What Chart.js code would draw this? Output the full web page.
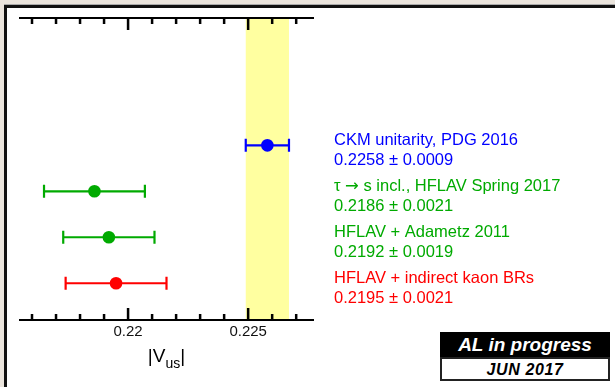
<!DOCTYPE html>
<html>
<head>
<meta charset="utf-8">
<script src="https://cdn.jsdelivr.net/npm/chart.js@4/dist/chart.umd.min.js"></script>
<style>
  html, body { margin: 0; padding: 0; width: 615px; height: 387px; overflow: hidden; background: #ebe5dd; }
  .frame { position: absolute; left: 4px; top: 5px; right: 0; bottom: 0; background: #fff; border-left: 3px solid #111; border-top: 3px solid #111; box-shadow: 0 -1px 0 #aaa; }
  #vusChart { position: absolute; left: 0; top: 0; }
  .tag { position: absolute; left: 440px; width: 170px; box-sizing: border-box; text-align: center; font-family: "Liberation Sans", Arial, Helvetica, sans-serif; font-weight: bold; font-style: italic; }
  .tag.top { top: 332px; height: 26px; line-height: 26px; background: #000; color: #fff; font-size: 19px; }
  .tag.bottom { top: 357px; height: 24px; line-height: 21px; background: #fff; color: #000; font-size: 16px; border: 2px solid #222; letter-spacing: 0.6px; }
</style>
</head>
<body>
<div class="frame"></div>
<canvas id="vusChart" width="615" height="387"></canvas>
<div class="tag top">AL in progress</div>
<div class="tag bottom">JUN 2017</div>
<script>
// ==========================================
// data
// ==========================================
const measLabels = ['CKM unitarity, PDG 2016', 'τ → s incl., HFLAV Spring 2017', 'HFLAV + Adametz 2011', 'HFLAV + indirect kaon BRs'];
const measValues = [0.2258, 0.2186, 0.2192, 0.2195];
const measErrors = [0.0009, 0.0021, 0.0019, 0.0021];
const measRows = [4, 3, 2, 1];
const measColors = ['#0000ff', '#00aa00', '#00aa00', '#ff0000'];
const bandRange = [0.2249, 0.2267];   // CKM unitarity band
const labelTicks = [0.22, 0.225];
const majorTicks = [0.22, 0.225];
const minorTicks = [0.216, 0.217, 0.218, 0.219, 0.221, 0.222, 0.223, 0.224, 0.226, 0.227];

const FONT = '"Liberation Sans", Arial, Helvetica, sans-serif';
const LABEL_FONT = '16.5px ' + FONT;
const ARROW_FONT = '16.5px "DejaVu Sans", sans-serif';

// draw a label, arrow glyph in a font that has a full-size one
function drawLabel(ctx, text, x, y) {
    const parts = text.split('→');
    parts.forEach((p, k) => {
        ctx.font = LABEL_FONT; ctx.fillText(p, x, y); x += ctx.measureText(p).width;
        if (k < parts.length - 1) { ctx.font = ARROW_FONT; ctx.fillText('→', x, y); x += ctx.measureText('→').width; }
    });
}

// ==========================================
// plugins: band, error bars, inner ticks, labels
// ==========================================
const vusPlugin = {
    id: 'vusPlugin',
    beforeDraw(chart) {
        const { ctx, chartArea: a, scales: { x } } = chart;
        const x0 = x.getPixelForValue(bandRange[0]); const x1 = x.getPixelForValue(bandRange[1]);
        ctx.save(); ctx.fillStyle = '#ffffa0'; ctx.fillRect(x0, a.top, x1 - x0, a.bottom - a.top); ctx.restore();
    },
    beforeDatasetsDraw(chart) {
        const { ctx, scales: { x, y } } = chart;
        ctx.save(); ctx.lineWidth = 2.2;
        measValues.forEach((v, i) => {
            const py = y.getPixelForValue(measRows[i]);
            const lo = x.getPixelForValue(v - measErrors[i]); const hi = x.getPixelForValue(v + measErrors[i]);
            ctx.strokeStyle = measColors[i];
            ctx.beginPath();
            ctx.moveTo(lo, py); ctx.lineTo(hi, py);
            ctx.moveTo(lo, py - 6.5); ctx.lineTo(lo, py + 6.5);
            ctx.moveTo(hi, py - 6.5); ctx.lineTo(hi, py + 6.5);
            ctx.stroke();
        });
        ctx.restore();
    },
    afterDraw(chart) {
        const { ctx, chartArea: a, scales: { x, y } } = chart;
        ctx.save(); ctx.strokeStyle = '#000'; ctx.lineWidth = 2.5;
        const tick = (v, len) => {
            const px = x.getPixelForValue(v);
            ctx.beginPath();
            ctx.moveTo(px, a.top); ctx.lineTo(px, a.top + len);
            ctx.moveTo(px, a.bottom); ctx.lineTo(px, a.bottom - len);
            ctx.stroke();
        };
        majorTicks.forEach(v => tick(v, 12)); minorTicks.forEach(v => tick(v, 6));

        // axis title |V_us|
        ctx.fillStyle = '#000'; ctx.textBaseline = 'alphabetic';
        const big = '19px ' + FONT; const small = '14px ' + FONT;
        ctx.font = big; const w1 = ctx.measureText('|V').width; const w3 = ctx.measureText('|').width;
        ctx.font = small; const w2 = ctx.measureText('us').width;
        let tx = (a.left + a.right) / 2 - (w1 + w2 + w3) / 2; const ty = a.bottom + 42;
        ctx.font = big; ctx.fillText('|V', tx, ty); tx += w1;
        ctx.font = small; ctx.fillText('us', tx, ty + 6); tx += w2;
        ctx.font = big; ctx.fillText('|', tx, ty);

        // measurement labels
        measLabels.forEach((lab, i) => {
            const py = y.getPixelForValue(measRows[i]);
            ctx.fillStyle = measColors[i];
            drawLabel(ctx, lab, a.right + 21, py);
            drawLabel(ctx, measValues[i].toFixed(4) + ' ± ' + measErrors[i].toFixed(4), a.right + 21, py + 20);
        });
        ctx.restore();
    }
};

// ==========================================
// chart
// ==========================================
const ctx = document.getElementById('vusChart');
new Chart(ctx.getContext('2d'), {
    type: 'scatter',
    data: {
        datasets: [{
            data: measValues.map((v, i) => ({ x: v, y: measRows[i] })),
            pointBackgroundColor: measColors,
            pointBorderWidth: 0,
            pointRadius: 6.3,
            pointHoverRadius: 6.3
        }]
    },
    options: {
        responsive: false, animation: false, devicePixelRatio: 1,
        layout: { padding: { left: 20, right: 302, top: 18, bottom: 37 } },
        plugins: { legend: { display: false }, tooltip: { enabled: false } },
        scales: {
            x: {
                type: 'linear', position: 'bottom', min: 0.2155, max: 0.2277,
                grid: { display: false, drawTicks: false },
                border: { display: true, color: '#000', width: 2 },
                afterBuildTicks: axis => { axis.ticks = labelTicks.map(v => ({ value: v })); },
                afterFit: axis => { axis.height = 30; },
                ticks: { padding: 3, color: '#111', font: { family: FONT, size: 15 }, maxRotation: 0, callback: v => String(v) }
            },
            x2: {
                type: 'linear', position: 'top', min: 0.2155, max: 0.2277,
                grid: { display: false, drawTicks: false },
                border: { display: true, color: '#000', width: 2 },
                ticks: { display: false },
                afterFit: axis => { axis.height = 0; }
            },
            y: { type: 'linear', display: false, min: 0.2, max: 6.77 }
        }
    },
    plugins: [vusPlugin]
});
</script>
</body>
</html>
